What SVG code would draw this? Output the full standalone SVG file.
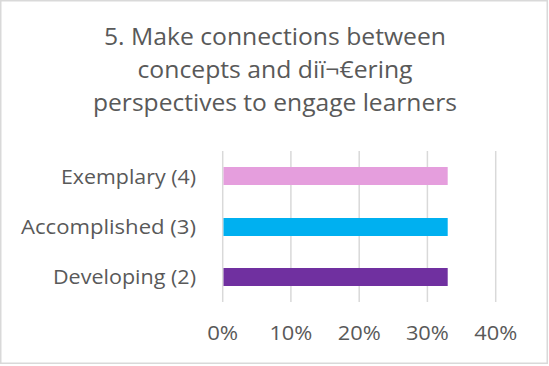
<svg xmlns="http://www.w3.org/2000/svg" width="549" height="366" viewBox="0 0 549 366">
<style>
text{font-family:"Open Sans","Noto Sans","Liberation Sans",sans-serif;fill:#595959}
.t{font-size:24px;text-anchor:middle}
.c{font-size:20.5px;text-anchor:end}
.a{font-size:20.5px;text-anchor:middle}
.g{stroke:#d9d9d9;stroke-width:1.5}
</style>
<rect x="0.75" y="0.75" width="546.5" height="362.5" fill="#fff" stroke="#d9d9d9" stroke-width="1.5"/>
<g id="title">
<text class="t" x="275" y="44.5" textLength="342" lengthAdjust="spacingAndGlyphs">5. Make connections between</text>
<text class="t" x="275" y="78" textLength="275" lengthAdjust="spacingAndGlyphs">concepts and diï¬€ering</text>
<text class="t" x="275" y="110.5" textLength="364" lengthAdjust="spacingAndGlyphs">perspectives to engage learners</text>
</g>
<g id="gridlines">
<line class="g" x1="222.7" y1="151" x2="222.7" y2="302"/>
<line class="g" x1="290.9" y1="151" x2="290.9" y2="302"/>
<line class="g" x1="359.2" y1="151" x2="359.2" y2="302"/>
<line class="g" x1="427.4" y1="151" x2="427.4" y2="302"/>
<line class="g" x1="495.7" y1="151" x2="495.7" y2="302"/>
</g>
<g id="bars">
<rect id="bar-exemplary" x="223.5" y="167" width="224.2" height="18" fill="#E59EDD"/>
<rect id="bar-accomplished" x="223.5" y="218" width="224.2" height="18" fill="#00B0F0"/>
<rect id="bar-developing" x="223.5" y="268" width="224.2" height="18" fill="#7030A0"/>
</g>
<g id="categories">
<text class="c" x="196" y="184" textLength="135" lengthAdjust="spacingAndGlyphs">Exemplary (4)</text>
<text class="c" x="196" y="234" textLength="175" lengthAdjust="spacingAndGlyphs">Accomplished (3)</text>
<text class="c" x="196" y="283.5" textLength="143" lengthAdjust="spacingAndGlyphs">Developing (2)</text>
</g>
<g id="axis">
<text class="a" x="222.7" y="340" textLength="31" lengthAdjust="spacingAndGlyphs">0%</text>
<text class="a" x="290.9" y="340" textLength="43" lengthAdjust="spacingAndGlyphs">10%</text>
<text class="a" x="359.2" y="340" textLength="43" lengthAdjust="spacingAndGlyphs">20%</text>
<text class="a" x="427.4" y="340" textLength="43" lengthAdjust="spacingAndGlyphs">30%</text>
<text class="a" x="495.7" y="340" textLength="43" lengthAdjust="spacingAndGlyphs">40%</text>
</g>
</svg>
